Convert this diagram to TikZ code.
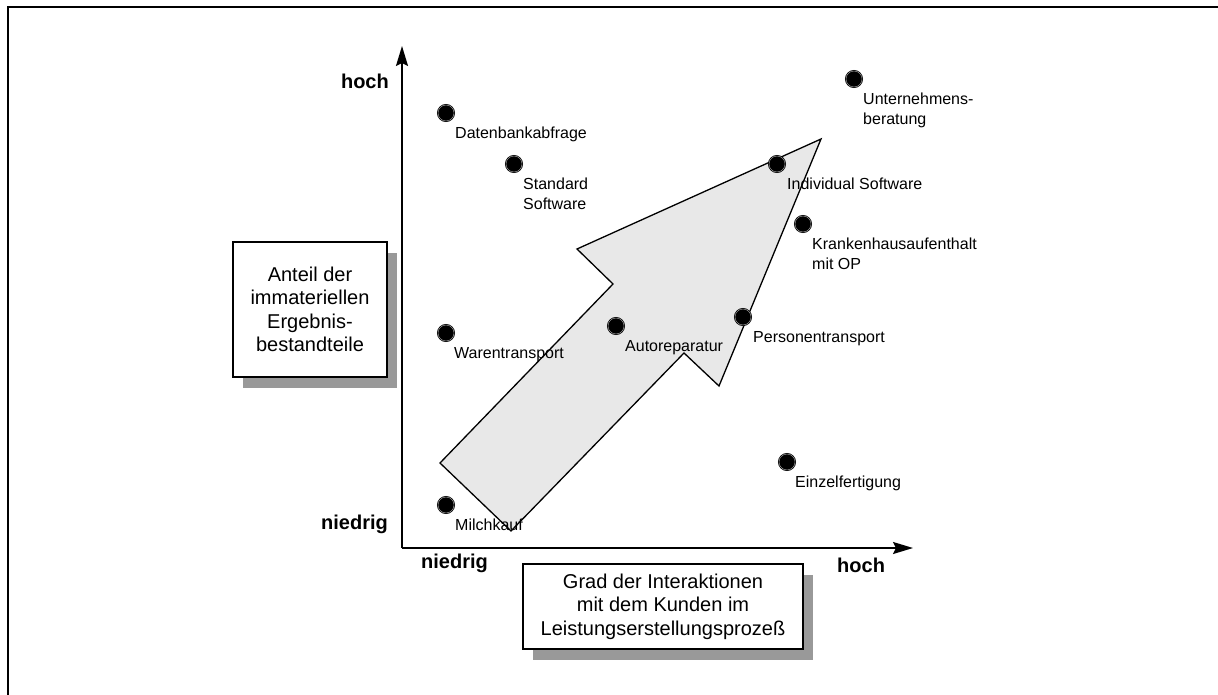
\documentclass[tikz,border=0pt]{standalone}
\usepackage{fontspec}
\setmainfont{Liberation Sans}
\usetikzlibrary{arrows.meta,positioning,shadows}
\definecolor{pfeilgrau}{gray}{0.91}
\definecolor{schatten}{gray}{0.6}
\begin{document}
\begin{tikzpicture}[x=1pt,y=-1pt,>={Stealth[length=20pt,width=12pt,inset=3pt]},line join=miter,
	punkt/.style={circle,fill=black,draw=black,line width=0.8pt,double=gray!60,double distance=0.4pt,inner sep=0pt,minimum size=16pt},
	lbl/.style={anchor=north west,inner sep=0pt,align=left,font=\fontsize{16}{20}\selectfont},
	achse/.style={font=\bfseries\fontsize{20}{24}\selectfont,inner sep=0pt},
	kasten/.style={draw,line width=1.5pt,fill=white,align=center,inner sep=0pt,font=\fontsize{20}{23.4}\selectfont,
		drop shadow={shadow xshift=10pt,shadow yshift=-11pt,fill=schatten,opacity=1}}]
	\clip (0,0) rectangle (1218,695);
	\draw[line width=2pt] (8,7) rectangle (1240,720);
	% Kaesten
	\node[kasten,minimum width=154pt,minimum height=135pt] (anteil) at (310,309.5)
		{Anteil der\\immateriellen\\Ergebnis-\\bestandteile};
	\node[kasten,minimum width=280pt,minimum height=85pt] (grad) at (663,606.5)
		{Grad der Interaktionen\\mit dem Kunden im\\Leistungserstellungsproze\ss};
	% Pfeil
	\draw[fill=pfeilgrau,line width=1.3pt] (440,463) -- (613,284) -- (577,249) -- (821,139)
		-- (719,386) -- (684,353) -- (511,531) -- cycle;
	% Achsen
	\coordinate (o) at (402,548);
	\coordinate (ye) at (402,46);
	\coordinate (xe) at (913,548);
	\draw[->,line width=1.8pt] (o) -- (ye);
	\draw[->,line width=1.8pt] (o) -- (xe);
	\node[achse,anchor=base east] (yhoch) at (389,89) {hoch};
	\node[achse,anchor=base east] (yniedrig) at (388,529) {niedrig};
	\node[achse,anchor=base west] (xniedrig) at (421,568) {niedrig};
	\node[achse,anchor=base west] (xhoch) at (837,572) {hoch};
	% Punkte
	\node[punkt] (datenbank) at (446,113) {};
	\node[punkt] (standard) at (514,164) {};
	\node[punkt] (waren) at (446,333) {};
	\node[punkt] (milch) at (446,505) {};
	\node[punkt] (auto) at (616,326) {};
	\node[punkt] (personen) at (743,317) {};
	\node[punkt] (individual) at (777,164) {};
	\node[punkt] (kranken) at (803,224) {};
	\node[punkt] (beratung) at (854,79) {};
	\node[punkt] (einzel) at (787,462) {};
	\node[lbl,below right=14pt and 9pt of datenbank.center] {Datenbankabfrage};
	\node[lbl,below right=14pt and 9pt of standard.center] {Standard\\Software};
	\node[lbl,below right=14pt and 8pt of waren.center] {Warentransport};
	\node[lbl,below right=14pt and 9pt of milch.center] {Milchkauf};
	\node[lbl,below right=14pt and 9pt of auto.center] {Autoreparatur};
	\node[lbl,below right=14pt and 10pt of personen.center] {Personentransport};
	\node[lbl,below right=14pt and 10pt of individual.center] {Individual Software};
	\node[lbl,below right=14pt and 9pt of kranken.center] {Krankenhausaufenthalt\\mit OP};
	\node[lbl,below right=14pt and 9pt of beratung.center] {Unternehmens-\\beratung};
	\node[lbl,below right=14pt and 8pt of einzel.center] {Einzelfertigung};
\end{tikzpicture}
\end{document}
